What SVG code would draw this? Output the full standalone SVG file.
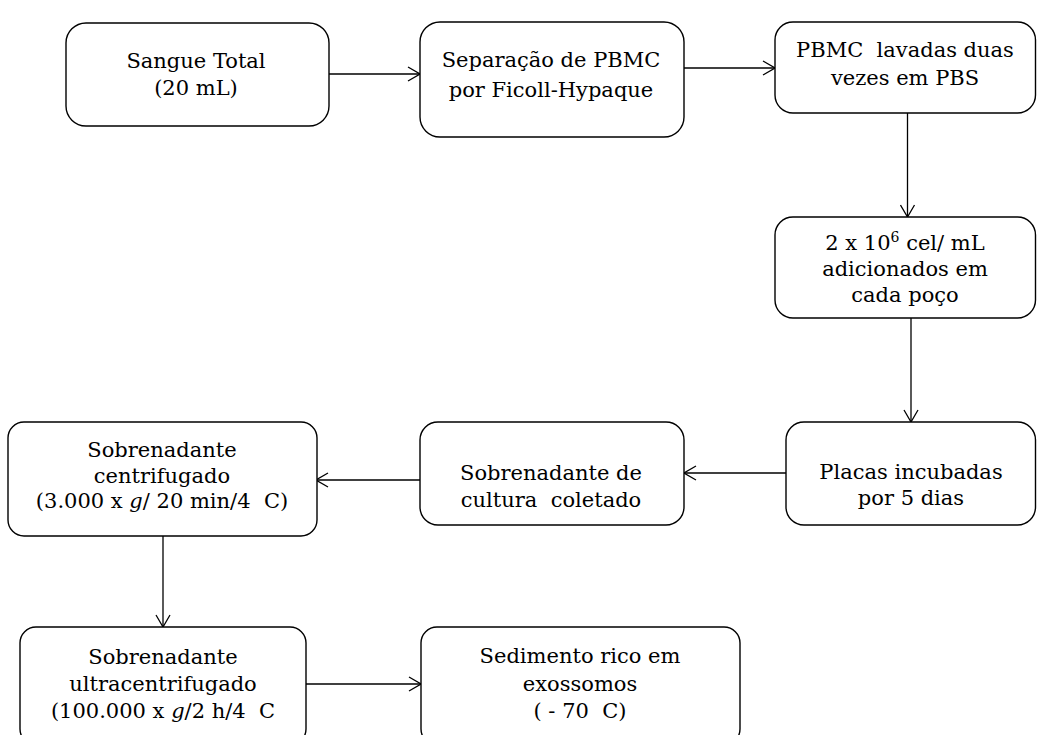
<svg xmlns="http://www.w3.org/2000/svg" width="1037" height="735" viewBox="0 0 1037 735">
<defs>
<style>
.box{fill:#fff;stroke:#000;stroke-width:1.4}
.lbl{font-family:"DejaVu Serif","Liberation Serif",serif;font-size:21px;fill:#000;text-anchor:middle;white-space:pre}
.con{fill:none;stroke:#000;stroke-width:1.3}
</style>
<marker id="arr" viewBox="0 0 14 16" refX="13" refY="8" markerWidth="14" markerHeight="16" markerUnits="userSpaceOnUse" orient="auto">
<path d="M1,1 L13,8 L1,15" fill="none" stroke="#000" stroke-width="1.3"/>
</marker>
</defs>
<rect width="1037" height="735" fill="#fff"/>
<g id="connectors">
<line class="con" x1="329" y1="74" x2="420" y2="74" marker-end="url(#arr)"/>
<line class="con" x1="684" y1="68" x2="775" y2="68" marker-end="url(#arr)"/>
<line class="con" x1="907.5" y1="113" x2="907.5" y2="217" marker-end="url(#arr)"/>
<line class="con" x1="911" y1="318" x2="911" y2="422" marker-end="url(#arr)"/>
<line class="con" x1="786" y1="473" x2="684" y2="473" marker-end="url(#arr)"/>
<line class="con" x1="420" y1="480" x2="316" y2="480" marker-end="url(#arr)"/>
<line class="con" x1="163" y1="536" x2="163" y2="627" marker-end="url(#arr)"/>
<line class="con" x1="306" y1="684" x2="421" y2="684" marker-end="url(#arr)"/>
</g>
<g id="n1">
<rect class="box" x="66" y="23" width="263" height="103" rx="20"/>
<text class="lbl" x="196" y="68">Sangue Total</text>
<text class="lbl" x="196" y="95">(20 mL)</text>
</g>
<g id="n2">
<rect class="box" x="420" y="22" width="264" height="115" rx="20"/>
<text class="lbl" x="551" y="67">Separação de PBMC</text>
<text class="lbl" x="551" y="97">por Ficoll-Hypaque</text>
</g>
<g id="n3">
<rect class="box" x="775" y="22" width="260.5" height="91" rx="18"/>
<text class="lbl" x="905" y="57">PBMC  lavadas duas</text>
<text class="lbl" x="905" y="85">vezes em PBS</text>
</g>
<g id="n4">
<rect class="box" x="775" y="217" width="260.5" height="101" rx="18"/>
<text class="lbl" x="905" y="250">2 x 10<tspan dy="-8" font-size="14">6</tspan><tspan dy="8"> cel/ mL</tspan></text>
<text class="lbl" x="905" y="276">adicionados em</text>
<text class="lbl" x="905" y="302">cada poço</text>
</g>
<g id="n5">
<rect class="box" x="786" y="422" width="249.5" height="103" rx="18"/>
<text class="lbl" x="911" y="479">Placas incubadas</text>
<text class="lbl" x="911" y="505">por 5 dias</text>
</g>
<g id="n6">
<rect class="box" x="420" y="422" width="264" height="103" rx="18"/>
<text class="lbl" x="551" y="480">Sobrenadante de</text>
<text class="lbl" x="551" y="507">cultura  coletado</text>
</g>
<g id="n7">
<rect class="box" x="8" y="422" width="309" height="114" rx="16"/>
<text class="lbl" x="162" y="457">Sobrenadante</text>
<text class="lbl" x="162" y="483">centrifugado</text>
<text class="lbl" x="162" y="508">(3.000 x <tspan font-style="italic">g</tspan>/ 20 min/4  C)</text>
</g>
<g id="n8">
<rect class="box" x="20" y="627" width="286" height="118" rx="16"/>
<text class="lbl" x="163" y="664">Sobrenadante</text>
<text class="lbl" x="163" y="691">ultracentrifugado</text>
<text class="lbl" x="163" y="718">(100.000 x <tspan font-style="italic">g</tspan>/2 h/4  C</text>
</g>
<g id="n9">
<rect class="box" x="421" y="627" width="319" height="118" rx="16"/>
<text class="lbl" x="580" y="663">Sedimento rico em</text>
<text class="lbl" x="580" y="691">exossomos</text>
<text class="lbl" x="580" y="718">( - 70  C)</text>
</g>
</svg>
